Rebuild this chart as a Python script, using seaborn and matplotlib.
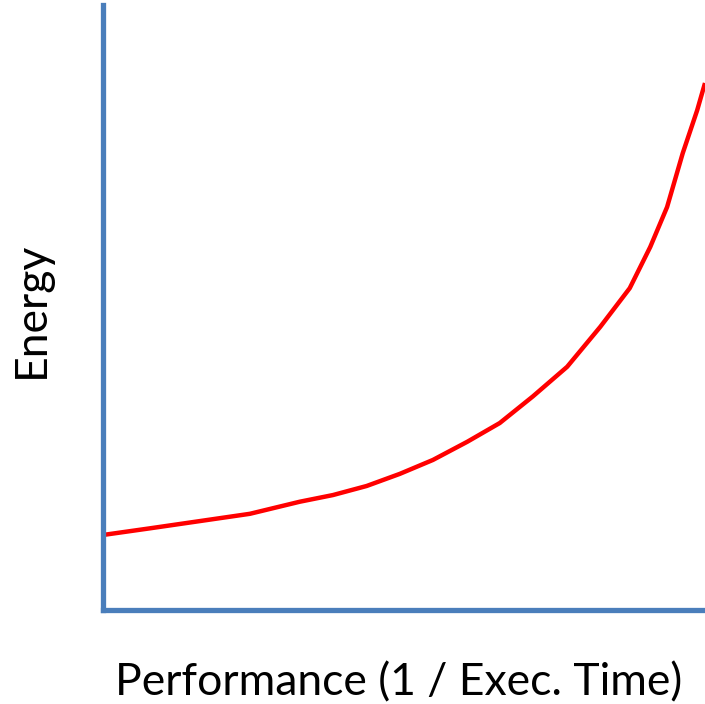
import matplotlib
matplotlib.use("Agg")
import matplotlib.pyplot as plt
import seaborn as sns
import pandas as pd

# values (axes run 0-100 in both directions)
performance = [0, 7.8, 16.1, 24.4, 32.7, 38.2, 43.8, 49.3, 54.8, 60.5,
               65.9, 71.4, 77.1, 82.6, 87.5, 90.9, 93.7, 96.3, 98.7, 100]
energy = [12.4, 13.5, 14.7, 15.9, 17.9, 19.0, 20.5, 22.5, 24.8, 27.8,
          30.9, 35.3, 40.2, 46.8, 53.2, 60.0, 66.6, 75.5, 82.6, 87.1]

x_label = "Performance (1 / Exec. Time)"
y_label = "Energy"

sns.set_style("white")
plt.rcParams['font.family'] = ['Lato', 'DejaVu Sans']

df = pd.DataFrame({'performance': performance, 'energy': energy})

fig = plt.figure(figsize=(7.05, 7.04), dpi=100)
ax = fig.add_axes([103 / 705, 94 / 704, 602 / 705, 605 / 704])

sns.lineplot(data=df, x='performance', y='energy', color='#ff0000', linewidth=3.2,
             solid_joinstyle='round', solid_capstyle='butt', ax=ax)

ax.set_xlim(0, 100)
ax.set_ylim(0, 100)
ax.set_xticks([])
ax.set_yticks([])
ax.set_xlabel('')
ax.set_ylabel('')

for side in ['top', 'right']:
    ax.spines[side].set_visible(False)
for side in ['left', 'bottom']:
    ax.spines[side].set_color('#4a7ebb')
    ax.spines[side].set_linewidth(3.8)

fig.text(399 / 705, 1 - 683 / 704, x_label, fontsize=32, color='black', ha='center', va='center')
fig.text(31 / 705, 1 - 310 / 704, y_label, fontsize=32, color='black', ha='center', va='center', rotation=90)

plt.savefig("out.png", dpi=100)
